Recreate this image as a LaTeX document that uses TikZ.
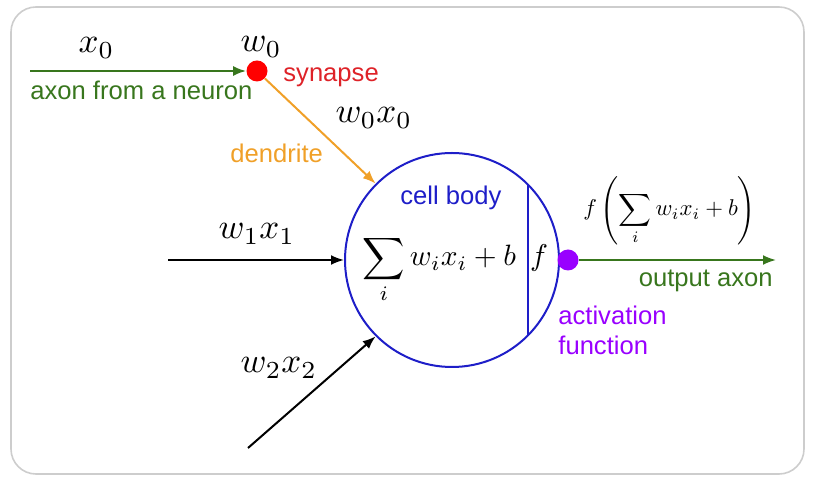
\documentclass[tikz,border=0pt]{standalone}
\usepackage{fontspec}
\newfontfamily\arialf{Liberation Sans}
\usetikzlibrary{arrows.meta}
\definecolor{axgreen}{RGB}{56,118,29}
\definecolor{synred}{RGB}{255,0,0}
\definecolor{syntext}{RGB}{222,34,40}
\definecolor{dorange}{RGB}{240,160,40}
\definecolor{cblue}{RGB}{30,30,200}
\definecolor{apurple}{RGB}{153,0,255}
\definecolor{framegray}{RGB}{205,205,205}
\begin{document}
\begin{tikzpicture}[x=0.5pt,y=-0.5pt,
  txt/.style={font=\arialf\fontsize{12.8}{15}\selectfont, inner sep=0pt},
  mlabel/.style={scale=1.75, inner sep=0pt},
  conn/.style={line width=1pt, -{Latex[length=6.5pt,width=5pt]}},
  dot/.style={circle, inner sep=0pt, minimum size=10.5pt}]
\useasboundingbox (0,0) rectangle (817,490);
\draw[framegray, line width=0.8pt, rounded corners=12.5pt] (11,7) rectangle (804,474);
% cell body
\node[circle, draw=cblue, line width=1pt, minimum size=107pt, inner sep=0pt] (body) at (452,260) {};
\draw[cblue, line width=1pt] (body.45.5) -- (body.-45.5);
% dots
\node[dot, fill=apurple] (act) at (568,260) {};
\node[dot, fill=synred] (syn) at (257,71) {};
% connectors
\coordinate (outend) at (776,260);
\coordinate (x0start) at (30,71);
\coordinate (in1) at (168,260);
\coordinate (in2) at (248,448);
\draw[conn, axgreen] (act) -- (outend);
\draw[conn, axgreen] (x0start) -- (syn);
\draw[conn, dorange] (syn) -- (body.135);
\draw[conn, black] (in1) -- (body.west);
\draw[conn, black] (in2) -- (body.225);
% labels
\node[mlabel, anchor=base west] (lx0) at (78,53) {$x_0$};
\node[mlabel, anchor=base west] (lw0) at (240,52) {$w_0$};
\node[txt, text=syntext, anchor=base west] (lsyn) at (283,82) {synapse};
\node[txt, text=axgreen, anchor=base west] (laxon) at (30,100) {axon from a neuron};
\node[mlabel, anchor=base west] (lw0x0) at (335,123) {$w_0x_0$};
\node[txt, text=dorange, anchor=base west] (lden) at (230,163) {dendrite};
\node[txt, text=cblue, anchor=base west] (lcell) at (400,205) {cell body};
\node[anchor=base west, inner sep=0pt, scale=1.47] (lsum) at (362,266) {$\displaystyle\sum_i w_ix_i+b$};
\node[anchor=base, inner sep=0pt, scale=1.5] (lf) at (539,266) {$f$};
\node[anchor=base west, inner sep=0pt, scale=1.14] (lfout) at (583,216) {$f\left(\displaystyle\sum_i w_ix_i+b\right)$};
\node[txt, text=axgreen, anchor=base east] (lout) at (773,287) {output axon};
\node[txt, text=apurple, anchor=base west] (lact1) at (558,325) {activation};
\node[txt, text=apurple, anchor=base west] (lact2) at (558,355) {function};
\node[mlabel, anchor=base west] (lw1x1) at (218,239) {$w_1x_1$};
\node[mlabel, anchor=base west] (lw2x2) at (240,373) {$w_2x_2$};
\end{tikzpicture}
\end{document}
